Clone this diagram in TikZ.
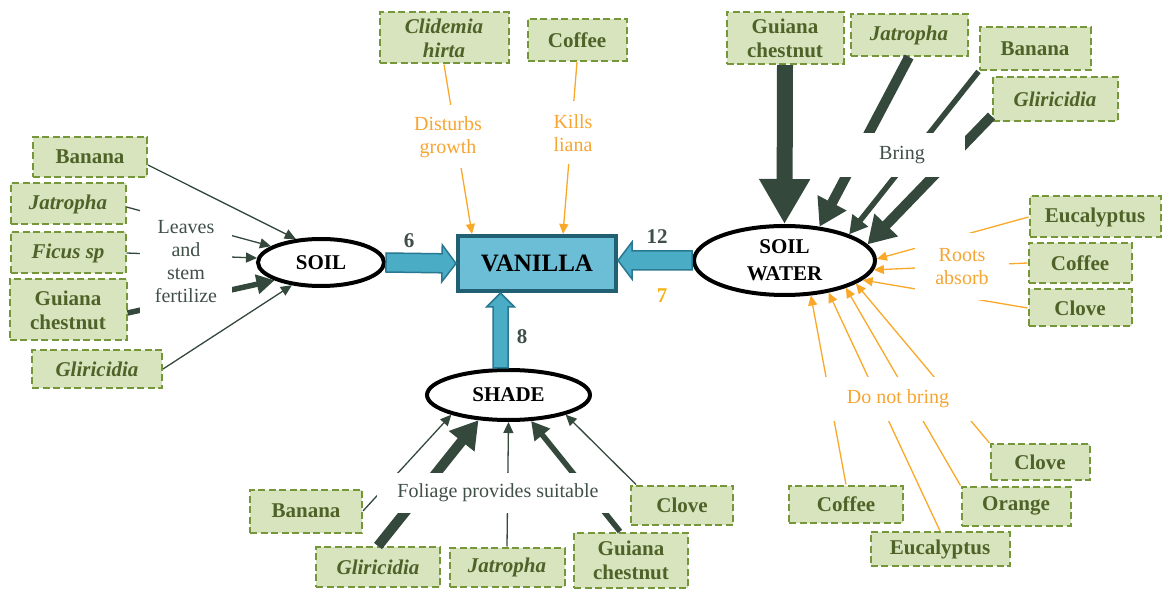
\documentclass[tikz,border=0pt]{standalone}
\usepackage{fontspec}
\setmainfont{Liberation Serif}
\usetikzlibrary{shapes.geometric, arrows.meta, calc, positioning}

\definecolor{plantfill}{RGB}{215,228,189}
\definecolor{plantedge}{RGB}{118,150,58}
\definecolor{planttext}{RGB}{79,98,40}
\definecolor{darkg}{RGB}{52,72,60}
\definecolor{notetext}{RGB}{64,80,72}
\definecolor{orangeA}{RGB}{250,168,40}
\definecolor{orangeT}{RGB}{247,165,50}
\definecolor{gold}{RGB}{245,178,20}
\definecolor{vanfill}{RGB}{107,190,214}
\definecolor{vanedge}{RGB}{33,95,114}
\definecolor{arrfill}{RGB}{75,172,198}
\definecolor{arredge}{RGB}{40,120,145}

% hollow block arrow: start, end, shaft half width, head half width
\newcommand{\bigarrow}[4]{%
  \coordinate (ba-s) at (#1);
  \coordinate (ba-e) at (#2);
  \coordinate (ba-h) at ($(ba-e)!14pt!(ba-s)$);
  \draw[fatarrow] ($(ba-s)!#3!90:(ba-e)$) -- ($(ba-h)!#3!90:(ba-e)$)
    -- ($(ba-h)!#4!90:(ba-e)$) -- (ba-e) -- ($(ba-h)!#4!-90:(ba-e)$)
    -- ($(ba-h)!#3!-90:(ba-e)$) -- ($(ba-s)!#3!-90:(ba-e)$) -- cycle;
}

\begin{document}
\begin{tikzpicture}[
  x=1pt, y=-1pt,
  plant/.style={rectangle, draw=plantedge, fill=plantfill, line width=2pt,
    dash pattern=on 7pt off 3.5pt, text=planttext, align=center, inner sep=0pt,
    font=\bfseries\fontsize{21}{24}\selectfont},
  factor/.style={ellipse, draw=black, fill=white, line width=4pt, align=center,
    inner sep=0pt, font=\bfseries\fontsize{21}{27}\selectfont},
  target/.style={rectangle, draw=vanedge, fill=vanfill, line width=4pt,
    minimum width=158, minimum height=55, font=\bfseries\fontsize{25}{28}\selectfont},
  note/.style={fill=white, text=notetext, align=center, inner sep=0pt,
    font=\fontsize{20}{23}\selectfont},
  warn/.style={note, text=orangeT},
  num/.style={text=notetext, font=\bfseries\fontsize{21}{24}\selectfont},
  fatarrow/.style={fill=arrfill, draw=arredge, line width=1.5pt, line join=miter},
  linkthin/.style={draw=darkg, line width=1.3pt, -{Triangle[length=11pt, width=10pt]}},
  linkmid/.style={draw=darkg, line width=5.5pt, -{Triangle[length=18pt, width=19pt]}},
  linkthick/.style={draw=darkg, line width=10pt, -{Triangle[length=27pt, width=31pt]}},
  linkheavy/.style={draw=darkg, line width=16pt, -{Triangle[length=45pt, width=48pt]}},
  orangelink/.style={draw=orangeA, line width=1.3pt, -{Triangle[length=10pt, width=9pt]}}
]
  \useasboundingbox (0,0) rectangle (1162,593);

  % main factors
  \node[target] (vanilla) at (537,263.5) {VANILLA};
  \node[factor, minimum width=126, minimum height=47] (soil) at (321,262.5) {SOIL};
  \node[factor, minimum width=181, minimum height=69] (sw) at (784.5,260.5) {SOIL\\WATER};
  \node[factor, minimum width=163, minimum height=50] (shade) at (508.5,395) {SHADE};

  \coordinate (shadetop) at ([xshift=-8pt]shade.north);
  \bigarrow{soil.east}{vanilla.west}{9.5pt}{18.5pt}
  \bigarrow{sw.west}{sw.west -| vanilla.east}{9.5pt}{18.5pt}
  \bigarrow{shadetop}{shadetop |- vanilla.south}{7.5pt}{14pt}

  \node[num] (w6) at (409,241) {6};
  \node[num] (w12) at (657,237) {12};
  \node[num, text=gold] (w7) at (662,296) {7};
  \node[num] (w8) at (522,337) {8};

  % plants feeding the soil
  \node[plant, minimum width=114, minimum height=40] (banL) at (90,157) {Banana};
  \node[plant, minimum width=115, minimum height=41] (jatL) at (68,204) {\textit{Jatropha}};
  \node[plant, minimum width=115, minimum height=41] (ficL) at (68,253) {\textit{Ficus sp}};
  \node[plant, minimum width=117, minimum height=61] (guiL) at (68,310) {Guiana\\chestnut};
  \node[plant, minimum width=130, minimum height=38] (gliL) at (97,369) {\textit{Gliricidia}};

  % plants acting on the vanilla itself
  \node[plant, minimum width=129, minimum height=51] (clid) at (444,38) {\textit{Clidemia}\\\textit{hirta}};
  \node[plant, minimum width=99, minimum height=42] (cofT) at (577,40) {Coffee};

  % plants bringing soil water
  \node[plant, minimum width=117, minimum height=52] (guiR) at (785,38) {Guiana\\chestnut};
  \node[plant, minimum width=117, minimum height=42] (jatR) at (909,35) {\textit{Jatropha}};
  \node[plant, minimum width=111, minimum height=43] (banR) at (1035,49) {Banana};
  \node[plant, minimum width=125, minimum height=44] (gliR) at (1055,99) {\textit{Gliricidia}};

  % plants whose roots absorb it
  \node[plant, minimum width=131, minimum height=41] (eucR) at (1095,217) {Eucalyptus};
  \node[plant, minimum width=103, minimum height=40] (cofR) at (1080,263) {Coffee};
  \node[plant, minimum width=103, minimum height=37] (cloR) at (1080,308) {Clove};

  % plants that do not bring it
  \node[plant, minimum width=114, minimum height=37] (cofB) at (846,504) {Coffee};
  \node[plant, minimum width=139, minimum height=34] (eucB) at (940,549) {Eucalyptus};
  \node[plant, minimum width=109, minimum height=39] (oraB) at (1016,506) {Orange};
  \node[plant, minimum width=99, minimum height=36] (cloB) at (1040,462) {Clove};

  % plants giving shade
  \node[plant, minimum width=112, minimum height=43] (banS) at (306,511) {Banana};
  \node[plant, minimum width=124, minimum height=40] (gliS) at (378,567) {\textit{Gliricidia}};
  \node[plant, minimum width=115, minimum height=39] (jatS) at (507,567) {\textit{Jatropha}};
  \node[plant, minimum width=114, minimum height=55] (guiS) at (631,560) {Guiana\\chestnut};
  \node[plant, minimum width=102, minimum height=39] (cloS) at (682,505) {Clove};

  % Leaves and stem fertilize.
  \draw[linkthin] ([yshift=-8pt]banL.east) -- (soil.137);
  \draw[linkthin] ([yshift=-3pt]jatL.east) -- (soil.162);
  \draw[linkthin] (ficL.east) -- (soil.176);
  \draw[linkmid] ([yshift=-3pt]guiL.east) -- (soil.201);
  \draw[linkthin] (gliL.east) -- (soil.218);

  % Disturbs growth, kills liana.
  \draw[orangelink] (clid.south) -- ([xshift=16pt]vanilla.north west);
  \draw[orangelink] (cofT.south) -- ([xshift=107pt]vanilla.north west);

  % Bring.
  \draw[linkheavy] (guiR.south) -- (sw.north);
  \draw[linkthick] (jatR.south) -- (sw.44);
  \draw[linkmid] (banR.south west) -- (sw.22);
  \draw[linkthick] (gliR.195) -- (sw.11);

  % Roots absorb.
  \draw[orangelink] (eucR.west) -- (sw.1.5);
  \draw[orangelink] (cofR.west) -- (sw.-6);
  \draw[orangelink] (cloR.west) -- (sw.-14);

  % Do not bring.
  \draw[orangelink] (cofB.north) -- (sw.-53);
  \draw[orangelink] (eucB.north) -- (sw.-36);
  \draw[orangelink] (oraB.north west) -- (sw.-24);
  \draw[orangelink] (cloB.north west) -- (sw.-18);

  % Foliage provides suitable shade.
  \draw[linkthin] (banS.east) -- (shade.199);
  \draw[linkthick] (gliS.north) -- (shade.220);
  \draw[linkthin] (jatS.north) -- (shade.south);
  \draw[linkmid] ([xshift=-11pt]guiS.north) -- (shade.-49);
  \draw[linkthin] ([xshift=6pt]cloS.north west) -- (shade.-19.5);

  % labels sitting over the connectors
  \node[note, minimum width=92, minimum height=104] (fert) at (186,262) {Leaves\\and\\stem\\fertilize};
  \node[note, minimum width=125, minimum height=44] (bring) at (902,155) {Bring};
  \node[note, minimum width=243, minimum height=40] (foliage) at (498,493) {Foliage provides suitable};
  \node[warn, minimum width=94, minimum height=67] (absorb) at (962,267) {Roots\\absorb};
  \node[warn, minimum width=150, minimum height=44] (nobring) at (898,399) {Do not bring};
  \node[warn, minimum width=90, minimum height=63] (disturb) at (448,137) {Disturbs\\growth};
  \node[warn, minimum width=70, minimum height=63] (kills) at (573,133) {Kills\\liana};
\end{tikzpicture}
\end{document}
